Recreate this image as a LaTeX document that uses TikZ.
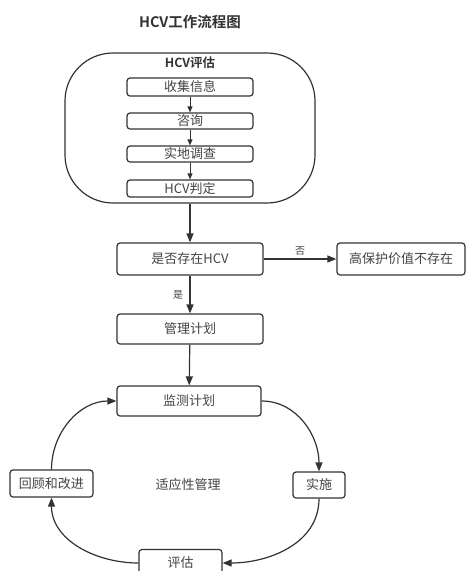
\documentclass[tikz,border=0pt]{standalone}
\usepackage{fontspec}
\newfontfamily\cjk{Noto Sans CJK SC}[BoldFont={Noto Sans CJK SC Bold}]
\usetikzlibrary{arrows.meta}
\definecolor{linegray}{HTML}{333333}
\definecolor{textgray}{HTML}{444444}

\begin{document}
\begin{tikzpicture} [x=1pt,y=-1pt,
			box/.style={draw=linegray,line width=1.2pt,rounded corners=3pt,fill=white,text=textgray,font=\cjk\fontsize{13}{15}\selectfont,inner sep=0pt},
			arr/.style={draw=linegray,line width=1.2pt,-{Triangle[length=9pt,width=7pt]}},
			small/.style={draw=linegray,line width=0.9pt,-{Triangle[length=6pt,width=5pt]}},
			lbl/.style={text=textgray,font=\cjk\fontsize{10}{12}\selectfont}]
			\clip (0,0) rectangle (466,571);
			\fill[white] (0,0) rectangle (466,571);
			
			\node[font=\cjk\bfseries\fontsize{14.5}{16}\selectfont,text=linegray] (title) at (190,22) {HCV工作流程图};
			
			% HCV评估
			\node[draw=linegray,line width=1.2pt,rounded corners=48pt,minimum width=250pt,minimum height=150pt] (hcv) at (190,128) {};
			\node[font=\cjk\bfseries\fontsize{12.5}{14}\selectfont,text=linegray] (hcvtitle) at (190,63) {HCV评估};
			\node[box,minimum width=126pt,minimum height=18pt] (collect) at (190,87) {收集信息};
			\node[box,minimum width=126pt,minimum height=16pt] (consult) at (190,121) {咨询};
			\node[box,minimum width=126pt,minimum height=16pt] (survey) at (190,154) {实地调查};
			\node[box,minimum width=126pt,minimum height=17pt] (judge) at (190,188.5) {HCV判定};
			\draw[small] (collect) -- (consult);
			\draw[small] (consult) -- (survey);
			\draw[small] (survey) -- (judge);
			
			\node[box,minimum width=146pt,minimum height=32pt] (exist) at (190,259) {是否存在HCV};
			\node[box,minimum width=128pt,minimum height=32pt] (absent) at (401,259) {高保护价值不存在};
			\node[box,minimum width=146pt,minimum height=30pt] (plan) at (190,329) {管理计划};
			\draw[arr] (hcv) -- (exist);
			\draw[arr] (exist) -- node[lbl,above] {否} (absent);
			\draw[arr] (exist) -- node[lbl,left,xshift=-3pt] {是} (plan);
			
			% 适应性管理
			\node[box,minimum width=144pt,minimum height=30pt] (monitor) at (189,401) {监测计划};
			\node[box,minimum width=83pt,minimum height=27pt] (review) at (51.5,483.5) {回顾和改进};
			\node[box,minimum width=52pt,minimum height=26pt] (implement) at (319,485) {实施};
			\node[box,minimum width=83pt,minimum height=27pt] (assess) at (180.5,563) {评估};
			\node[text=textgray,font=\cjk\fontsize{13}{15}\selectfont] (adaptive) at (188,485) {适应性管理};
			\draw[arr] (plan) -- (monitor);
			\draw[arr] (monitor.east) to[out=0,in=90] (implement.north);
			\draw[arr] (implement.south) to[out=-90,in=0] (assess.east);
			\draw[arr] (assess.west) to[out=180,in=-90] (review.south);
			\draw[arr] (review.north) to[out=90,in=180] (monitor.west);
\end{tikzpicture}
\end{document}
